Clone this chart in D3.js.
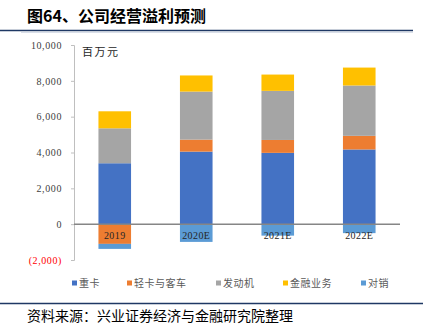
<!DOCTYPE html>
<html>
<head>
<meta charset="utf-8">
<script src="https://cdn.jsdelivr.net/npm/d3@7"></script>
<style>
  html, body { margin: 0; padding: 0; background: #fff; }
  svg { display: block; }
</style>
</head>
<body>
<script>
const categories = ["2019", "2020E", "2021E", "2022E"];
const seriesNames = ["重卡", "轻卡与客车", "发动机", "金融业务", "对销"];
const heavyTruck = [3400, 4050, 3980, 4170];
const lightTruckBus = [-1100, 670, 720, 760];
const engine = [1950, 2680, 2740, 2810];
const finance = [950, 900, 910, 1000];
const elimination = [-280, -990, -640, -500];
const yTicks = [-2000, 0, 2000, 4000, 6000, 8000, 10000];
const colors = ["#4472C4", "#ED7D31", "#A5A5A5", "#FFC000", "#5B9BD5"];

const seriesValues = [heavyTruck, lightTruckBus, engine, finance, elimination];
const table = categories.map((c, i) => {
  const row = { cat: c };
  seriesNames.forEach((s, j) => row[s] = seriesValues[j][i]);
  return row;
});

const W = 428, H = 334;
const svg = d3.select("body").append("svg").attr("width", W).attr("height", H);

// Title
svg.append("text").attr("x", 27).attr("y", 22)
  .attr("font-family", "'Noto Sans CJK SC', sans-serif")
  .attr("font-size", 16).attr("font-weight", "bold").attr("fill", "#000")
  .text("图64、公司经营溢利预测");
svg.append("line").attr("x1", 0).attr("x2", 413).attr("y1", 30.5).attr("y2", 30.5)
  .attr("stroke", "#1F3864").attr("stroke-width", 1.5);
svg.append("line").attr("x1", 21).attr("x2", 413).attr("y1", 32.5).attr("y2", 32.5)
  .attr("stroke", "#D9DEE8").attr("stroke-width", 1);

const x = d3.scaleBand().domain(categories).range([74, 400]).paddingInner(0.6).paddingOuter(0.3);
const y = d3.scaleLinear().domain([-2000, 10000]).range([260, 45]);

// y axis
const yAxis = d3.axisLeft(y).tickValues(yTicks).tickSize(3).tickPadding(9)
  .tickFormat(d => d < 0 ? "(" + d3.format(",")(-d) + ")" : d3.format(",")(d));
const ga = svg.append("g").attr("transform", "translate(74,0)").call(yAxis);
ga.select(".domain").attr("stroke", "#BFBFBF");
ga.selectAll(".tick line").attr("stroke", "#BFBFBF");
ga.selectAll(".tick text")
  .attr("font-family", "'Liberation Serif', serif").attr("font-size", 10)
  .attr("letter-spacing", 0.6)
  .attr("fill", d => d < 0 ? "#FF0000" : "#404040");

// unit
svg.append("text").attr("x", 82).attr("y", 56)
  .attr("font-family", "'Noto Sans CJK SC', sans-serif").attr("font-size", 11)
  .attr("letter-spacing", 1.5).attr("fill", "#262626").text("百万元");

// stacked bars
const stack = d3.stack().keys(seriesNames).offset(d3.stackOffsetDiverging);
const layers = stack(table);
svg.append("g").selectAll("g").data(layers).join("g")
  .attr("fill", (d, i) => colors[i])
  .selectAll("rect").data(d => d).join("rect")
  .attr("x", d => x(d.data.cat))
  .attr("width", x.bandwidth())
  .attr("y", d => y(Math.max(d[0], d[1])))
  .attr("height", d => Math.abs(y(d[0]) - y(d[1])));

// zero line
svg.append("line").attr("x1", 74).attr("x2", 400).attr("y1", y(0)).attr("y2", y(0))
  .attr("stroke", "#868686").attr("stroke-width", 1.5);

// category labels
svg.append("g").selectAll("text").data(categories).join("text")
  .attr("x", d => x(d) + x.bandwidth() / 2).attr("y", y(0) + 15)
  .attr("text-anchor", "middle")
  .attr("font-family", "'Liberation Serif', serif").attr("font-size", 10)
  .attr("letter-spacing", 0.4)
  .attr("fill", "#262626").text(d => d);

// legend
const legendX = [72, 127, 216, 283, 361];
const lg = svg.append("g").selectAll("g").data(seriesNames).join("g")
  .attr("transform", (d, i) => `translate(${legendX[i]},283)`);
lg.append("rect").attr("x", 0).attr("y", -2.5).attr("width", 5).attr("height", 5)
  .attr("fill", (d, i) => colors[i]);
lg.append("text").attr("x", 7).attr("y", 4)
  .attr("font-family", "'Noto Sans CJK SC', sans-serif").attr("font-size", 10)
  .attr("letter-spacing", 0.5).attr("fill", "#595959").text(d => d);

// bottom rule and source
svg.append("line").attr("x1", 0).attr("x2", 423).attr("y1", 303.5).attr("y2", 303.5)
  .attr("stroke", "#1F3864").attr("stroke-width", 1.5);
svg.append("text").attr("x", 27).attr("y", 321)
  .attr("font-family", "'Noto Sans CJK SC', sans-serif").attr("font-size", 14)
  .attr("fill", "#000").text("资料来源：兴业证券经济与金融研究院整理");
</script>
</body>
</html>
